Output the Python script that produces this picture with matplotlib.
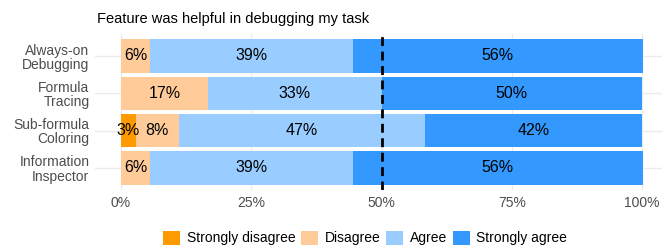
import matplotlib.pyplot as plt
from matplotlib.patches import Patch

plt.rcParams["font.family"] = ["Liberation Sans", "DejaVu Sans"]

features = ["Always-on\nDebugging", "Formula\nTracing", "Sub-formula\nColoring", "Information\nInspector"]
levels = ["Strongly disagree", "Disagree", "Agree", "Strongly agree"]
colors = ["#FF9900", "#FFCC99", "#99CCFF", "#3399FF"]

strongly_disagree = [0.0, 0.0, 2.8, 0.0]
disagree = [5.6, 16.7, 8.3, 5.6]
agree = [38.9, 33.3, 47.2, 38.9]
strongly_agree = [55.6, 50.0, 41.7, 55.6]
series = [strongly_disagree, disagree, agree, strongly_agree]

fig = plt.figure(figsize=(6.62, 2.46), dpi=100)
ax = fig.add_axes([95 / 662, 1 - 190.4 / 246, 567 / 662, 156.8 / 246])

ypos = list(range(len(features)))
left = [0.0] * len(features)
for vals, col in zip(series, colors):
    ax.barh(ypos, vals, left=left, height=0.9, color=col, zorder=2)
    for i, v in enumerate(vals):
        if v > 0:
            ax.text(left[i] + v / 2, i, f"{round(v)}%", ha="center", va="center",
                    fontsize=11.5, color="black", zorder=3)
    left = [l + v for l, v in zip(left, vals)]

ax.axvline(50, color="black", linestyle=(0, (3.2, 2)), linewidth=2, zorder=4)

ax.set_xlim(-4.99, 103.8)
ax.set_ylim(3.6, -0.6)
ax.set_xticks([0, 25, 50, 75, 100])
ax.set_xticklabels(["0%", "25%", "50%", "75%", "100%"])
ax.set_yticks(ypos)
ax.set_yticklabels(features, linespacing=1.0)
ax.tick_params(length=0, labelsize=10, labelcolor="#4D4D4D")
ax.tick_params(axis="x", pad=4)
ax.tick_params(axis="y", pad=4)
ax.grid(True, color="#EBEBEB", linewidth=1, zorder=0)
for s in ax.spines.values():
    s.set_visible(False)

fig.text(97 / 662, 1 - 19 / 246, "Feature was helpful in debugging my task",
         fontsize=10.5, va="center", ha="left")

handles = [Patch(facecolor=c, edgecolor="none") for c in colors]
fig.legend(handles, levels, loc="center", bbox_to_anchor=(365 / 662, 1 - 238 / 246),
           ncol=4, frameon=False, fontsize=10, handlelength=1.22, handleheight=1.22,
           handletextpad=0.5, columnspacing=0.4, borderpad=0, borderaxespad=0)

fig.savefig("out.png", dpi=100)
